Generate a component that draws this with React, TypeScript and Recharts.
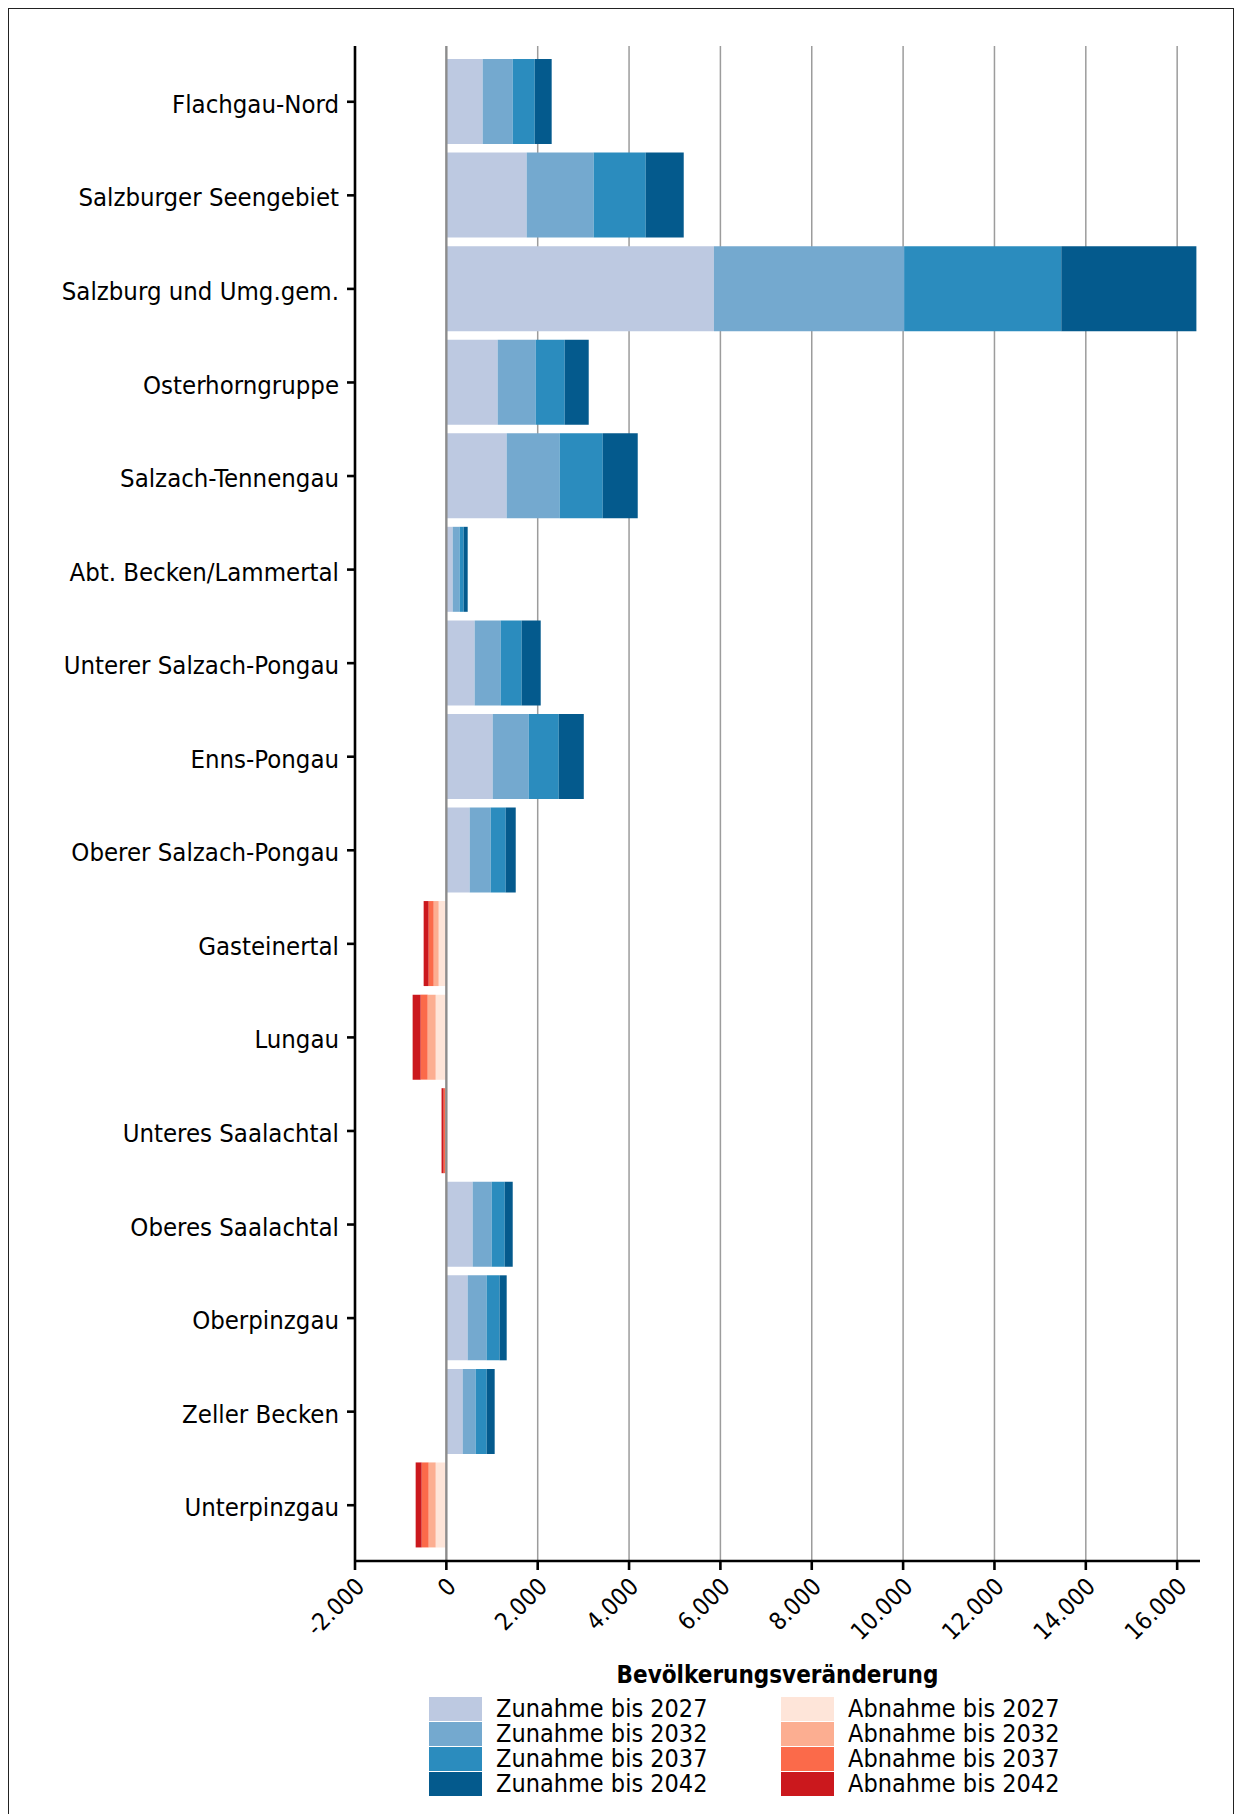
import { Bar, BarChart, CartesianGrid, ReferenceLine, XAxis, YAxis } from "recharts";

const FONT = "'DejaVu Sans Condensed', 'DejaVu Sans', sans-serif";

const regions = [
  "Flachgau-Nord",
  "Salzburger Seengebiet",
  "Salzburg und Umg.gem.",
  "Osterhorngruppe",
  "Salzach-Tennengau",
  "Abt. Becken/Lammertal",
  "Unterer Salzach-Pongau",
  "Enns-Pongau",
  "Oberer Salzach-Pongau",
  "Gasteinertal",
  "Lungau",
  "Unteres Saalachtal",
  "Oberes Saalachtal",
  "Oberpinzgau",
  "Zeller Becken",
  "Unterpinzgau",
];

// segment sizes per period (stacked)
const zunahme2027 = [795, 1759, 5858, 1124, 1321, 138, 620, 1015, 511, 0, 0, 0, 576, 467, 357, 0];
const zunahme2032 = [657, 1467, 4164, 832, 1161, 153, 569, 789, 460, 0, 0, 0, 417, 416, 285, 0];
const zunahme2037 = [482, 1139, 3441, 635, 942, 88, 460, 657, 329, 0, 0, 0, 285, 285, 241, 0];
const zunahme2042 = [372, 832, 2958, 526, 766, 88, 417, 548, 219, 0, 0, 0, 175, 153, 175, 0];
const abnahme2027 = [0, 0, 0, 0, 0, 0, 0, 0, 0, -169, -234, -10, 0, 0, 0, -234];
const abnahme2032 = [0, 0, 0, 0, 0, 0, 0, 0, 0, -109, -176, -15, 0, 0, 0, -154];
const abnahme2037 = [0, 0, 0, 0, 0, 0, 0, 0, 0, -110, -153, -35, 0, 0, 0, -153];
const abnahme2042 = [0, 0, 0, 0, 0, 0, 0, 0, 0, -109, -175, -45, 0, 0, 0, -131];

const xTicks = [-2000, 0, 2000, 4000, 6000, 8000, 10000, 12000, 14000, 16000];
const gridValues = [2000, 4000, 6000, 8000, 10000, 12000, 14000, 16000];

const zunahme = [
  { key: "z2027", name: "Zunahme bis 2027", color: "#bdc9e1", values: zunahme2027 },
  { key: "z2032", name: "Zunahme bis 2032", color: "#74a9cf", values: zunahme2032 },
  { key: "z2037", name: "Zunahme bis 2037", color: "#2b8cbe", values: zunahme2037 },
  { key: "z2042", name: "Zunahme bis 2042", color: "#045a8d", values: zunahme2042 },
];
const abnahme = [
  { key: "a2027", name: "Abnahme bis 2027", color: "#fee5d9", values: abnahme2027 },
  { key: "a2032", name: "Abnahme bis 2032", color: "#fcae91", values: abnahme2032 },
  { key: "a2037", name: "Abnahme bis 2037", color: "#fb6a4a", values: abnahme2037 },
  { key: "a2042", name: "Abnahme bis 2042", color: "#cb181d", values: abnahme2042 },
];
const series = [...zunahme, ...abnahme];

const data = regions.map((region, i) => {
  const row: Record<string, string | number> = { region };
  series.forEach((s) => {
    row[s.key] = s.values[i];
  });
  return row;
});

const fmt = (v: number) => {
  const s = String(Math.abs(v)).replace(/\B(?=(\d{3})+(?!\d))/g, ".");
  return v < 0 ? `-${s}` : s;
};

function XTick({ x, y, payload }: any) {
  const px = x + 11;
  const py = y + 18;
  return (
    <text x={px} y={py} transform={`rotate(-45, ${px}, ${py})`} textAnchor="end" fontSize={24} fontFamily={FONT} fill="#000">
      {fmt(payload.value)}
    </text>
  );
}

function LegendColumn({ items, left }: { items: typeof zunahme; left: number }) {
  return (
    <div style={{ position: "absolute", left, top: 1688 }}>
      {items.map((item) => (
        <div key={item.key} style={{ display: "flex", alignItems: "center", height: 24, marginBottom: 1 }}>
          <span style={{ width: 53, height: 24, background: item.color }} />
          <span style={{ marginLeft: 14, fontSize: 25, lineHeight: "24px", color: "#000" }}>{item.name}</span>
        </div>
      ))}
    </div>
  );
}

export default function App() {
  return (
    <div
      style={{
        position: "relative",
        width: 1224,
        height: 1812,
        border: "1px solid #222",
        background: "#fff",
        fontFamily: FONT,
        fontStretch: "condensed",
      }}
    >
      <style>{"html, body { overflow: hidden; }"}</style>
      <BarChart
        width={1224}
        height={1680}
        data={data}
        layout="vertical"
        stackOffset="sign"
        margin={{ top: 37, right: 33, left: 0, bottom: 0 }}
      >
        <CartesianGrid horizontal={false} verticalValues={gridValues} stroke="#9c9c9c" strokeWidth={1.5} />
        <XAxis
          type="number"
          domain={[-2000, 16500]}
          ticks={xTicks}
          interval={0}
          height={128}
          tickSize={9}
          tickMargin={0}
          axisLine={{ stroke: "#000", strokeWidth: 2.6 }}
          tickLine={{ stroke: "#000", strokeWidth: 2.6 }}
          tick={(props: any) => <XTick {...props} />}
          label={{
            value: "Bevölkerungsveränderung",
            position: "insideBottom",
            offset: 6,
            fontSize: 24,
            fontWeight: 700,
            fill: "#000",
            fontFamily: FONT,
          }}
        />
        <YAxis
          type="category"
          dataKey="region"
          width={346}
          interval={0}
          tickSize={8}
          tickMargin={8}
          padding={{ top: 9, bottom: 9 }}
          axisLine={{ stroke: "#000", strokeWidth: 2.6 }}
          tickLine={{ stroke: "#000", strokeWidth: 2.6 }}
          tick={{ fill: "#000", fontSize: 25.5, fontFamily: FONT, dy: 2 }}
        />
        {series.map((s) => (
          <Bar key={s.key} dataKey={s.key} name={s.name} stackId="change" fill={s.color} barSize={85} isAnimationActive={false} />
        ))}
        <ReferenceLine x={0} stroke="#8c8c8c" strokeWidth={2.4} />
      </BarChart>
      <LegendColumn items={zunahme} left={420} />
      <LegendColumn items={abnahme} left={772} />
    </div>
  );
}
